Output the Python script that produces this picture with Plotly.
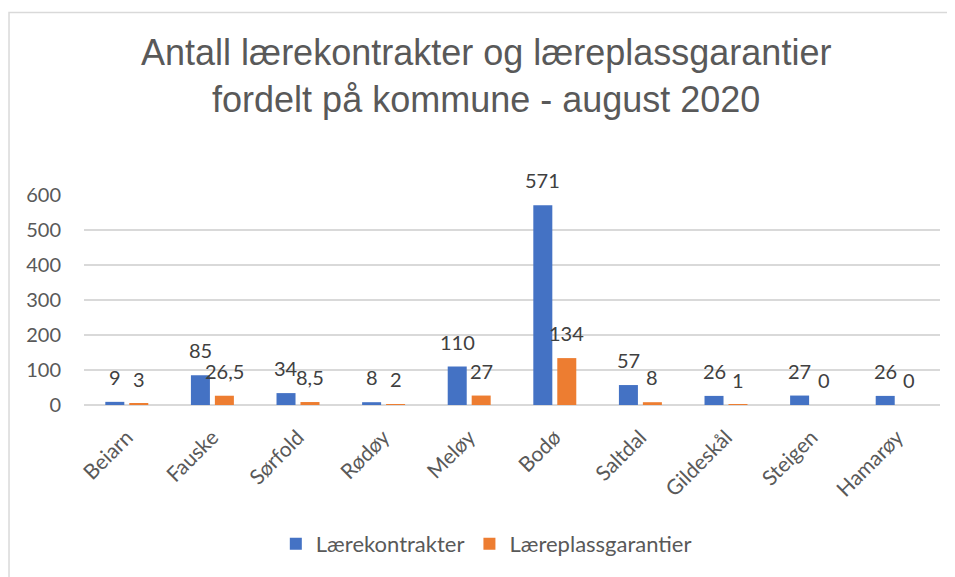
import plotly.graph_objects as go

categories = ["Beiarn", "Fauske", "Sørfold", "Rødøy", "Meløy", "Bodø", "Saltdal", "Gildeskål", "Steigen", "Hamarøy"]
laerekontrakter = [9, 85, 34, 8, 110, 571, 57, 26, 27, 26]
laereplassgarantier = [3, 26.5, 8.5, 2, 27, 134, 8, 1, 0, 0]
series_names = ["Lærekontrakter", "Læreplassgarantier"]
colors = ["#4472C4", "#ED7D31"]
y_ticks = [0, 100, 200, 300, 400, 500, 600]

FONT = "Lato, 'Open Sans', sans-serif"

def fmt(v):
    s = f"{v:g}"
    return s.replace(".", ",")

fig = go.Figure()
offsets = [-0.251, 0.029]
for name, vals, col, off in zip(series_names, [laerekontrakter, laereplassgarantier], colors, offsets):
    fig.add_trace(go.Bar(x=categories, y=vals, name=name, width=0.222, offset=off,
                         marker=dict(color=col, line=dict(width=0))))

annotations = []
for i, vals in enumerate([laerekontrakter, laereplassgarantier]):
    xs = -12 if i == 0 else 12
    for c, v in zip(categories, vals):
        annotations.append(dict(x=c, y=v, xref="x", yref="y", text=fmt(v), showarrow=False,
                                xshift=xs, yshift=11, yanchor="bottom",
                                font=dict(family=FONT, size=20, color="#404040")))

fig.update_layout(
    width=947, height=569,
    margin=dict(l=76, r=15, t=187, b=169),
    paper_bgcolor="white", plot_bgcolor="white",
    barmode="group",
    title=dict(text="Antall lærekontrakter og læreplassgarantier<br>fordelt på kommune - august 2020",
               x=0.505, xanchor="center", y=0.90, yanchor="middle", yref="container",
               font=dict(family="'Liberation Sans', Arial, sans-serif", size=36, color="#595959")),
    xaxis=dict(tickangle=-45, tickfont=dict(family=FONT, size=21, color="#595959"),
               showgrid=False, showline=False, ticks="", ticklabelstandoff=15),
    yaxis=dict(range=[0, 600], tickvals=y_ticks, showgrid=True, gridcolor="#D9D9D9", gridwidth=1.5,
               zeroline=True, zerolinecolor="#D9D9D9", zerolinewidth=1.5,
               tickfont=dict(family=FONT, size=20, color="#595959"), ticklabelstandoff=22),
    legend=dict(orientation="h", x=0.47, xanchor="center", y=-0.662, yanchor="middle",
                font=dict(family=FONT, size=22, color="#595959"), itemwidth=30),
    annotations=annotations,
    shapes=[dict(type="rect", xref="paper", yref="paper", x0=-0.0876, x1=1.05, y0=-0.9, y1=1.8685,
                 line=dict(color="#D9D9D9", width=1.5), fillcolor="rgba(0,0,0,0)", layer="below")],
)

fig.write_html("out.html")
